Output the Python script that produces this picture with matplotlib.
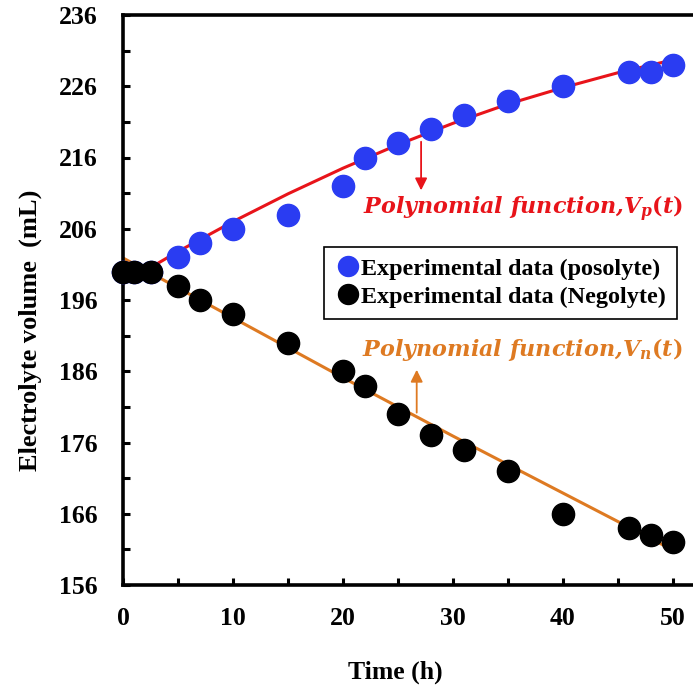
import numpy as np
import matplotlib
matplotlib.use("Agg")
import matplotlib.pyplot as plt

t_pos = [0, 1, 2.5, 5, 7, 10, 15, 20, 22, 25, 28, 31, 35, 40, 46, 48, 50]
v_pos = [200, 200, 200, 202, 204, 206, 208, 212, 216, 218, 220, 222, 224, 226, 228, 228, 229]

t_neg = [0, 1, 2.5, 5, 7, 10, 15, 20, 22, 25, 28, 31, 35, 40, 46, 48, 50]
v_neg = [200, 200, 200, 198, 196, 194, 190, 186, 184, 180, 177, 175, 172, 166, 164, 163, 162]

# fitted polynomial curves, read at every 5 h
t_fit = [0, 5, 10, 15, 20, 25, 30, 35, 40, 45, 50]
vp_fit = [198.3, 202.8, 207.0, 210.9, 214.5, 217.8, 220.8, 223.5, 225.8, 227.9, 229.7]
vn_fit = [201.9, 197.7, 193.5, 189.3, 185.1, 181.0, 176.9, 172.9, 168.9, 164.9, 160.9]

plt.rcParams['font.family'] = ['Liberation Serif', 'DejaVu Serif']
plt.rcParams['mathtext.fontset'] = 'custom'
plt.rcParams['mathtext.it'] = 'DejaVu Serif:bold:italic'
plt.rcParams['mathtext.rm'] = 'DejaVu Serif:bold'

fig = plt.figure(figsize=(6.93, 6.90), dpi=100)
ax = fig.add_axes([123 / 693, 105 / 690, 572 / 693, 570 / 690])

blue = '#2a3cf2'
red = '#e8141a'
orange = '#de7a22'

ax.plot(t_fit, vp_fit, color=red, lw=2.2, zorder=2)
ax.plot(t_fit, vn_fit, color=orange, lw=2.2, zorder=2)
ax.plot(t_pos, v_pos, 'o', color=blue, ms=16, label='Experimental data (posolyte)',
        zorder=3, clip_on=False)
ax.plot(t_neg, v_neg, 'o', color='black', ms=16, label='Experimental data (Negolyte)',
        zorder=4, clip_on=False)

# arrows from curves to labels
ax.annotate('', xy=(27.1, 211.0), xytext=(27.1, 218.6),
            arrowprops=dict(arrowstyle='-|>', color=red, lw=1.3, mutation_scale=18))
ax.annotate('', xy=(26.7, 186.6), xytext=(26.7, 179.8),
            arrowprops=dict(arrowstyle='-|>', color=orange, lw=1.3, mutation_scale=18))

ax.text(50.9, 208.8, r'Polynomial function,$V_p(t)$', color=red, fontsize=16,
        family='DejaVu Serif', style='italic', weight='bold', ha='right', va='center')
ax.text(50.9, 189.1, r'Polynomial function,$V_n(t)$', color=orange, fontsize=16,
        family='DejaVu Serif', style='italic', weight='bold', ha='right', va='center')

ax.set_xlim(0, 52)
ax.set_ylim(156, 236)
ax.set_xticks([0, 10, 20, 30, 40, 50])
ax.set_xticks([5, 15, 25, 35, 45], minor=True)
ax.set_yticks(np.arange(156, 237, 10))
ax.set_yticks(np.arange(161, 236, 10), minor=True)
ax.tick_params(which='both', direction='in', length=5, width=2.2, labelsize=18.5)
ax.tick_params(axis='y', pad=18)
ax.tick_params(axis='x', pad=16)
for lab in ax.get_xticklabels() + ax.get_yticklabels():
    lab.set_fontweight('bold')

for s in ['left', 'bottom', 'top']:
    ax.spines[s].set_linewidth(2.6)
ax.spines['right'].set_visible(False)

ax.set_xlabel('Time (h)', fontsize=18.5, weight='bold')
ax.xaxis.set_label_coords((395 - 123) / 572, -(661 - 585) / 570)
ax.set_ylabel('Electrolyte volume  (mL)', fontsize=19, weight='bold')
ax.yaxis.set_label_coords(-(123 - 42) / 572, (585 - 330) / 570)

leg = ax.legend(loc='upper left', bbox_to_anchor=((324 - 123) / 572, (585 - 247) / 570),
                prop={'weight': 'bold', 'size': 17.4}, frameon=True,
                fancybox=False, edgecolor='black', handlelength=1.1, handletextpad=0.0,
                borderpad=0.45, labelspacing=0.25, markerscale=0.9, borderaxespad=0,
                framealpha=1)
leg.get_frame().set_linewidth(1.2)

fig.savefig('out.png', dpi=100)
